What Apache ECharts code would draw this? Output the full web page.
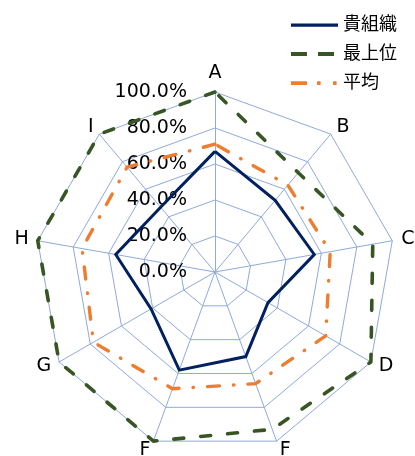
<!DOCTYPE html>
<html>
<head>
<meta charset="utf-8">
<script src="https://cdn.jsdelivr.net/npm/echarts@6/dist/echarts.min.js"></script>
<style>
  html, body { margin: 0; padding: 0; background: #fff; }
  #chart { width: 415px; height: 456px; }
</style>
</head>
<body>
<div id="chart"></div>
<script>
// Axis categories, listed clockwise from the top
const categories = ['A', 'B', 'C', 'D', 'F', 'F', 'G', 'H', 'I'];

// Scores in percent, one value per category
const ownOrg  = [67, 52, 56, 34, 50, 58, 41, 56, 47];
const topOrg  = [100, 72, 89, 100, 93, 100, 100, 100, 100];
const average = [71, 63, 65, 71, 66, 69, 78, 75, 76];

const seriesNames = ['貴組織', '最上位', '平均'];
const seriesColors = ['#002060', '#375623', '#ED7D31'];

// Value scale of every spoke
const scaleMin = 0;
const scaleMax = 100;
const scaleSteps = 5;

const FONT = '"DejaVu Sans", "Noto Sans CJK JP", sans-serif';

// ECharts lays radar spokes out counter-clockwise, so walk the lists in reverse
const order = [0].concat(categories.map((_, i) => i).slice(1).reverse());
const pick = arr => order.map(i => arr[i]);

const indicator = order.map(i => ({ name: categories[i], min: scaleMin, max: scaleMax }));
indicator[0].axisLabel = { show: true };

// Legend keys drawn as short line samples
const legendIcons = [
  'path://M0,0M47,14M0,5.5h47v3.2h-47z',
  'path://M0,0M47,14M0,5h16v4h-16zM27,5h16v4h-16z',
  'path://M0,0M47,14M0,5.3h16v3.6h-16zM26,5.3h3.6v3.6h-3.6zM42,5.3h3.6v3.6h-3.6z'
];

const lineStyles = [
  { width: 3, type: 'solid', join: 'miter' },
  { width: 3.6, type: [10, 17], cap: 'round', join: 'round' },
  { width: 3.4, type: [12, 14, 0.5, 14], cap: 'round', join: 'round' }
];

const values = [ownOrg, topOrg, average];

const chart = echarts.init(document.getElementById('chart'), null, { renderer: 'canvas' });

chart.setOption({
  animation: false,
  backgroundColor: '#fff',
  textStyle: { fontFamily: FONT },
  legend: {
    orient: 'vertical',
    left: 286,
    top: 11,
    itemWidth: 47,
    itemHeight: 14,
    itemGap: 11,
    selectedMode: false,
    textStyle: { fontSize: 18, color: '#000', fontFamily: FONT },
    data: seriesNames.map((n, i) => ({ name: n, icon: legendIcons[i], itemStyle: { color: seriesColors[i] } }))
  },
  radar: {
    center: [215, 272],
    radius: 180,
    startAngle: 90,
    shape: 'polygon',
    splitNumber: scaleSteps,
    indicator: indicator,
    nameGap: 9,
    axisName: { color: '#000', fontSize: 19, fontFamily: FONT },
    axisLine: { lineStyle: { color: '#8FAADC', width: 1 } },
    splitLine: { lineStyle: { color: '#8FAADC', width: 1 } },
    splitArea: { show: false },
    axisTick: { show: false },
    axisLabel: {
      show: false,
      margin: 28,
      color: '#000',
      fontSize: 19,
      fontFamily: FONT,
      formatter: v => Number(v).toFixed(1) + '%'
    }
  },
  series: [{
    type: 'radar',
    symbol: 'none',
    silent: true,
    emphasis: { disabled: true },
    data: values.map((arr, i) => ({
      name: seriesNames[i],
      value: pick(arr),
      lineStyle: Object.assign({ color: seriesColors[i] }, lineStyles[i]),
      itemStyle: { color: seriesColors[i] },
      areaStyle: null
    }))
  }]
});
</script>
</body>
</html>
